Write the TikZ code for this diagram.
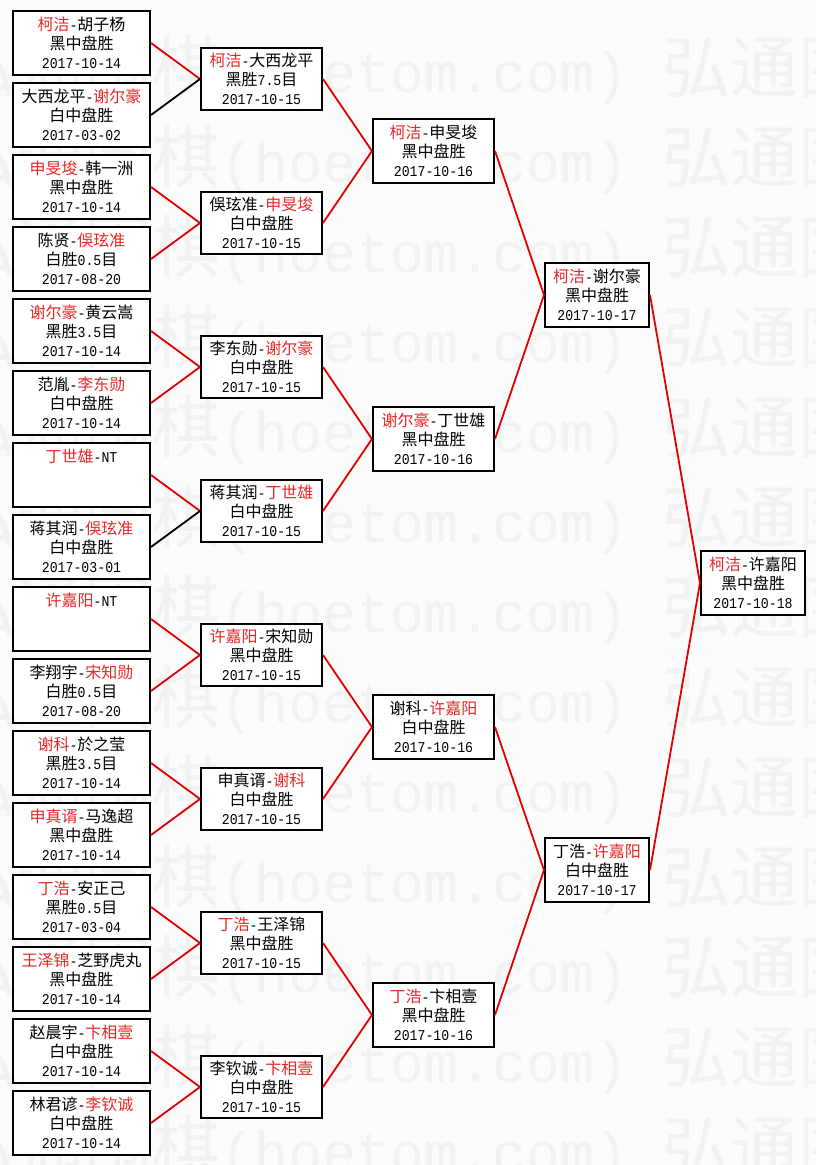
\documentclass[tikz,border=0pt]{standalone}
\usepackage{fontspec}
\setmainfont{Noto Sans CJK SC}
\newfontfamily\monofont{Liberation Mono}
\newfontfamily\datefont[FakeStretch=0.88]{Liberation Mono}
\definecolor{wred}{RGB}{232,40,40}
\definecolor{lred}{RGB}{226,0,0}
\definecolor{wmark}{RGB}{242,242,242}
\definecolor{bgc}{RGB}{251,251,251}
\newcommand\R[1]{\textcolor{wred}{#1}}
\newcommand\hy{{\datefont\fontsize{15pt}{19pt}\selectfont -}}
\newcommand\dd[1]{{\datefont\fontsize{15pt}{19pt}\selectfont #1}}
\newcommand\wmtext{弘通围棋{\monofont\fontsize{56.7pt}{68pt}\selectfont(hoetom.com) }弘通围棋{\monofont\fontsize{56.7pt}{68pt}\selectfont(hoetom.com) }}
\begin{document}
\begin{tikzpicture}[x=1pt,y=-1pt,
  box/.style={draw=black, line width=2pt, fill=white, inner sep=0pt, align=center, minimum height=64pt, font=\fontsize{16pt}{19pt}\selectfont},
  cA/.style={box, minimum width=137pt},
  cB/.style={box, minimum width=121pt, minimum height=62pt},
  cC/.style={box, minimum width=121pt},
  cD/.style={box, minimum width=104pt},
  win/.style={draw=lred, line width=1.8pt},
  lose/.style={draw=black, line width=1.8pt},
  wm/.style={text=wmark, anchor=base west, inner sep=0pt, font=\fontsize{68pt}{68pt}\selectfont}
]
\useasboundingbox (0,0) rectangle (816,1165);
\fill[bgc] (0,0) rectangle (816,1165);
\begin{scope}
\clip (0,0) rectangle (816,1165);
\foreach \k in {0,...,12} {
  \node[wm] (wm\k) at (-52, 92+90*\k) {\wmtext};
}
\end{scope}

% column 1
\node[cA] (a1)  at (81.5,  43) {\R{柯洁}\hy 胡子杨\\黑中盘胜\\\dd{2017-10-14}};
\node[cA] (a2)  at (81.5, 115) {大西龙平\hy\R{谢尔豪}\\白中盘胜\\\dd{2017-03-02}};
\node[cA] (a3)  at (81.5, 187) {\R{申旻埈}\hy 韩一洲\\黑中盘胜\\\dd{2017-10-14}};
\node[cA] (a4)  at (81.5, 259) {陈贤\hy\R{俁玹准}\\白胜\dd{0.5}目\\\dd{2017-08-20}};
\node[cA] (a5)  at (81.5, 331) {\R{谢尔豪}\hy 黄云嵩\\黑胜\dd{3.5}目\\\dd{2017-10-14}};
\node[cA] (a6)  at (81.5, 403) {范胤\hy\R{李东勋}\\白中盘胜\\\dd{2017-10-14}};
\node[cA] (a7)  at (81.5, 475) {\R{丁世雄}\hy\dd{NT}\\\phantom{黑}\\\phantom{\dd{2}}};
\node[cA] (a8)  at (81.5, 547) {蒋其润\hy\R{俁玹准}\\白中盘胜\\\dd{2017-03-01}};
\node[cA] (a9)  at (81.5, 619) {\R{许嘉阳}\hy\dd{NT}\\\phantom{黑}\\\phantom{\dd{2}}};
\node[cA] (a10) at (81.5, 691) {李翔宇\hy\R{宋知勋}\\白胜\dd{0.5}目\\\dd{2017-08-20}};
\node[cA] (a11) at (81.5, 763) {\R{谢科}\hy 於之莹\\黑胜\dd{3.5}目\\\dd{2017-10-14}};
\node[cA] (a12) at (81.5, 835) {\R{申真谞}\hy 马逸超\\黑中盘胜\\\dd{2017-10-14}};
\node[cA] (a13) at (81.5, 907) {\R{丁浩}\hy 安正己\\黑胜\dd{0.5}目\\\dd{2017-03-04}};
\node[cA] (a14) at (81.5, 979) {\R{王泽锦}\hy 芝野虎丸\\黑中盘胜\\\dd{2017-10-14}};
\node[cA] (a15) at (81.5,1051) {赵晨宇\hy\R{卞相壹}\\白中盘胜\\\dd{2017-10-14}};
\node[cA] (a16) at (81.5,1123) {林君谚\hy\R{李钦诚}\\白中盘胜\\\dd{2017-10-14}};

% column 2
\node[cB] (b1) at (261.5,  79) {\R{柯洁}\hy 大西龙平\\黑胜\dd{7.5}目\\\dd{2017-10-15}};
\node[cB] (b2) at (261.5, 223) {俁玹准\hy\R{申旻埈}\\白中盘胜\\\dd{2017-10-15}};
\node[cB] (b3) at (261.5, 367) {李东勋\hy\R{谢尔豪}\\白中盘胜\\\dd{2017-10-15}};
\node[cB] (b4) at (261.5, 511) {蒋其润\hy\R{丁世雄}\\白中盘胜\\\dd{2017-10-15}};
\node[cB] (b5) at (261.5, 655) {\R{许嘉阳}\hy 宋知勋\\黑中盘胜\\\dd{2017-10-15}};
\node[cB] (b6) at (261.5, 799) {申真谞\hy\R{谢科}\\白中盘胜\\\dd{2017-10-15}};
\node[cB] (b7) at (261.5, 943) {\R{丁浩}\hy 王泽锦\\黑中盘胜\\\dd{2017-10-15}};
\node[cB] (b8) at (261.5,1087) {李钦诚\hy\R{卞相壹}\\白中盘胜\\\dd{2017-10-15}};

% column 3
\node[cC] (c1) at (433.5, 151) {\R{柯洁}\hy 申旻埈\\黑中盘胜\\\dd{2017-10-16}};
\node[cC] (c2) at (433.5, 439) {\R{谢尔豪}\hy 丁世雄\\黑中盘胜\\\dd{2017-10-16}};
\node[cC] (c3) at (433.5, 727) {谢科\hy\R{许嘉阳}\\白中盘胜\\\dd{2017-10-16}};
\node[cC] (c4) at (433.5,1015) {\R{丁浩}\hy 卞相壹\\黑中盘胜\\\dd{2017-10-16}};

% column 4
\node[cD] (d1) at (597, 295) {\R{柯洁}\hy 谢尔豪\\黑中盘胜\\\dd{2017-10-17}};
\node[cD] (d2) at (597, 870) {丁浩\hy\R{许嘉阳}\\白中盘胜\\\dd{2017-10-17}};

% final
\node[cD] (e1) at (753, 583) {\R{柯洁}\hy 许嘉阳\\黑中盘胜\\\dd{2017-10-18}};

% connectors
\draw[win]  (a1.east)  -- (b1.west);
\draw[lose] (a2.east)  -- (b1.west);
\draw[win]  (a3.east)  -- (b2.west);
\draw[win]  (a4.east)  -- (b2.west);
\draw[win]  (a5.east)  -- (b3.west);
\draw[win]  (a6.east)  -- (b3.west);
\draw[win]  (a7.east)  -- (b4.west);
\draw[lose] (a8.east)  -- (b4.west);
\draw[win]  (a9.east)  -- (b5.west);
\draw[win]  (a10.east) -- (b5.west);
\draw[win]  (a11.east) -- (b6.west);
\draw[win]  (a12.east) -- (b6.west);
\draw[win]  (a13.east) -- (b7.west);
\draw[win]  (a14.east) -- (b7.west);
\draw[win]  (a15.east) -- (b8.west);
\draw[win]  (a16.east) -- (b8.west);

\draw[win] (b1.east) -- (c1.west);
\draw[win] (b2.east) -- (c1.west);
\draw[win] (b3.east) -- (c2.west);
\draw[win] (b4.east) -- (c2.west);
\draw[win] (b5.east) -- (c3.west);
\draw[win] (b6.east) -- (c3.west);
\draw[win] (b7.east) -- (c4.west);
\draw[win] (b8.east) -- (c4.west);

\draw[win] (c1.east) -- (d1.west);
\draw[win] (c2.east) -- (d1.west);
\draw[win] (c3.east) -- (d2.west);
\draw[win] (c4.east) -- (d2.west);

\draw[win] (d1.east) -- (e1.west);
\draw[win] (d2.east) -- (e1.west);
\end{tikzpicture}
\end{document}
